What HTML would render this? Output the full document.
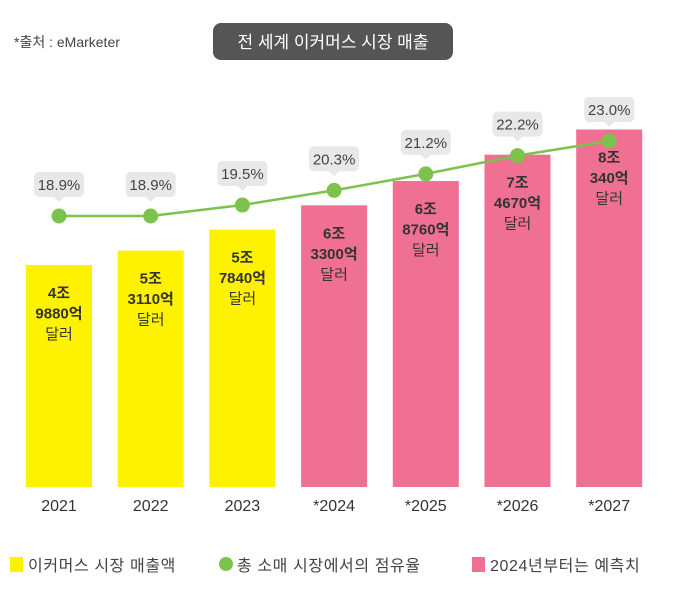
<!DOCTYPE html>
<html><head><meta charset="utf-8"><style>
body{margin:0;background:#fff;font-family:"Liberation Sans","Noto Sans CJK KR",sans-serif;}
svg text{font-family:"Liberation Sans","Noto Sans CJK KR",sans-serif;}
</style></head><body>
<svg id="c" width="679" height="608" xmlns="http://www.w3.org/2000/svg">
<text x="14" y="47" font-size="14" fill="#444">*출처 : eMarketer</text>
<rect x="213" y="23" width="240" height="37" rx="8" fill="#555"/>
<text x="333" y="48" font-size="17" fill="#fff" text-anchor="middle">전 세계 이커머스 시장 매출</text>
<g id="bars"></g><g id="line"></g><g id="axis"></g>
<g>
<rect x="10" y="557" width="13" height="15" fill="#fff200"/>
<text x="28" y="571" font-size="16" fill="#444" letter-spacing="0.6">이커머스 시장 매출액</text>
<circle cx="226" cy="564" r="7" fill="#7dc24b"/>
<text x="237" y="571" font-size="16" fill="#444" letter-spacing="0.6">총 소매 시장에서의 점유율</text>
<rect x="472" y="557" width="13" height="15" fill="#f07093"/>
<text x="490" y="571" font-size="16" fill="#444" letter-spacing="0.6">2024년부터는 예측치</text>
</g>
</svg>
<script>
const years=["2021","2022","2023","*2024","*2025","*2026","*2027"];
const sales=[4.988,5.311,5.784,6.33,6.876,7.467,8.034];
const salesLabels=[["4조","9880억","달러"],["5조","3110억","달러"],["5조","7840억","달러"],["6조","3300억","달러"],["6조","8760억","달러"],["7조","4670억","달러"],["8조","340억","달러"]];
const share=[18.9,18.9,19.5,20.3,21.2,22.2,23.0];
const forecast=[false,false,false,true,true,true,true];
const NS="http://www.w3.org/2000/svg";
const xC=i=>59+i*91.7;
const yB=v=>487-v*44.5;
const yL=v=>216-(v-18.9)*18.3;
function mk(tag,attrs,parent,txt){const e=document.createElementNS(NS,tag);for(const k in attrs)e.setAttribute(k,attrs[k]);if(txt!==undefined)e.textContent=txt;parent.appendChild(e);return e;}
const gb=document.getElementById('bars'),gl=document.getElementById('line'),ga=document.getElementById('axis');
sales.forEach((v,i)=>{
 const r=mk('rect',{x:xC(i)-33,y:yB(v),width:66,height:487-yB(v),fill:forecast[i]?'#f07093':'#fff200'},gb);
 
 
 salesLabels[i].forEach((t,j)=>{
  const tx=mk('text',{x:xC(i),y:yB(v)+33+j*20.5,'font-size':15,'font-weight':j<2?'bold':'normal',fill:'#333','text-anchor':'middle'},gb,t);
  
  
 });
 const a=mk('text',{x:xC(i),y:511,'font-size':16,fill:'#333','text-anchor':'middle'},ga,years[i]);
 
 
});
const pts=share.map((v,i)=>xC(i)+','+yL(v)).join(' ');
const pl=mk('polyline',{points:pts,fill:'none',stroke:'#7dc24b','stroke-width':2.5},gl);


share.forEach((v,i)=>{
 const x=xC(i),y=yL(v);
 const c=mk('circle',{cx:x,cy:y,r:7.5,fill:'#7dc24b'},gl);
 
 
 const b=mk('rect',{x:x-25,y:y-44,width:50,height:25,rx:5,fill:'#e8e8e8'},gl);
 
 
 const p=mk('polygon',{points:`${x-5},${y-19} ${x+5},${y-19} ${x},${y-14}`,fill:'#e8e8e8'},gl);
 
 
 const t=mk('text',{x:x,y:y-26,'font-size':15,fill:'#444','text-anchor':'middle'},gl,v.toFixed(1)+'%');
 
 
});
</script>
</body></html>
